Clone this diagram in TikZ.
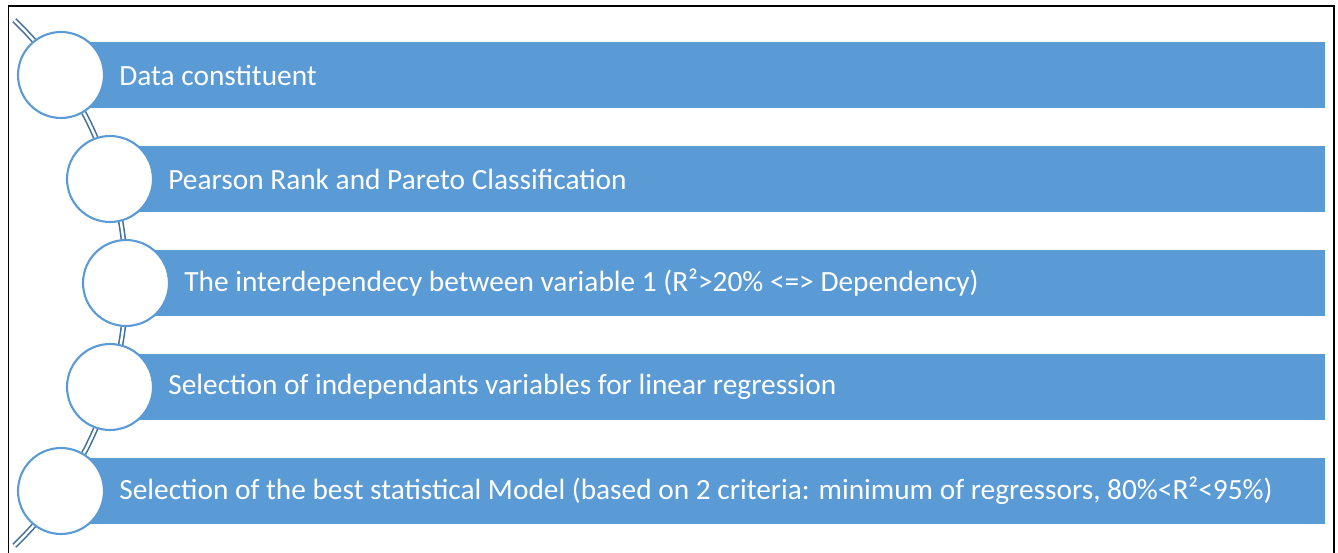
\documentclass[tikz,border=0pt]{standalone}
\usepackage{fontspec}
\setmainfont{Carlito}
\usetikzlibrary{positioning}
\definecolor{stepBlue}{RGB}{91,155,213}
\definecolor{stepArc}{RGB}{65,113,156}
\tikzset{
  stepbar/.style={
    rectangle, fill=stepBlue, draw=none,
    minimum height=1.32cm, inner sep=0pt,
    anchor=west
  },
  stepdot/.style={
    circle, draw=stepBlue, fill=white,
    line width=1.2pt, minimum size=1.72cm, inner sep=0pt
  },
  steptext/.style={
    inner sep=0pt, text=white,
    font=\fontsize{16.7}{20}\selectfont
  },
  steparc/.style={draw=stepArc, line width=0.9pt, double=white, double distance=1.4pt},
}
\begin{document}
\begin{tikzpicture}[x=0.02cm, y=-0.02cm]
  \useasboundingbox (0,0) rectangle (1338,553);

  % frame
  \draw[line width=1.1pt] (8.5,553) -- (8.5,6) -- (1334,6) -- (1334,553);

  % curved spine
  \coordinate (ctr) at (-239.3,283);
  \draw[steparc] (ctr) ++(-46:7.306cm) arc[start angle=-46, end angle=46, radius=7.306cm];

  % Row 1
  \node[stepbar, minimum width=25.28cm] (b1) at (61,75) {};
  \node[stepdot] (c1) at (61,75) {};
  \node[steptext, right=0.28cm of c1] (t1) {Data constituent};

  % Row 2
  \node[stepbar, minimum width=24.30cm] (b2) at (110,179) {};
  \node[stepdot] (c2) at (110,179) {};
  \node[steptext, right=0.28cm of c2] (t2) {Pearson Rank and Pareto Classification};

  % Row 3
  \node[stepbar, minimum width=23.98cm] (b3) at (126,283) {};
  \node[stepdot] (c3) at (126,283) {};
  \node[steptext, right=0.28cm of c3] (t3) {The interdependecy between variable 1 (R²>20\% <=> Dependency)};

  % Row 4
  \node[stepbar, minimum width=24.30cm] (b4) at (110,387) {};
  \node[stepdot] (c4) at (110,387) {};
  \node[steptext, right=0.28cm of c4] (t4) {Selection of independants variables for linear regression};

  % Row 5
  \node[stepbar, minimum width=25.28cm] (b5) at (61,491) {};
  \node[stepdot] (c5) at (61,491) {};
  \node[steptext, right=0.28cm of c5] (t5) {Selection of the best statistical Model (based on 2 criteria: minimum of regressors, 80\%<R²<95\%)};
\end{tikzpicture}
\end{document}
